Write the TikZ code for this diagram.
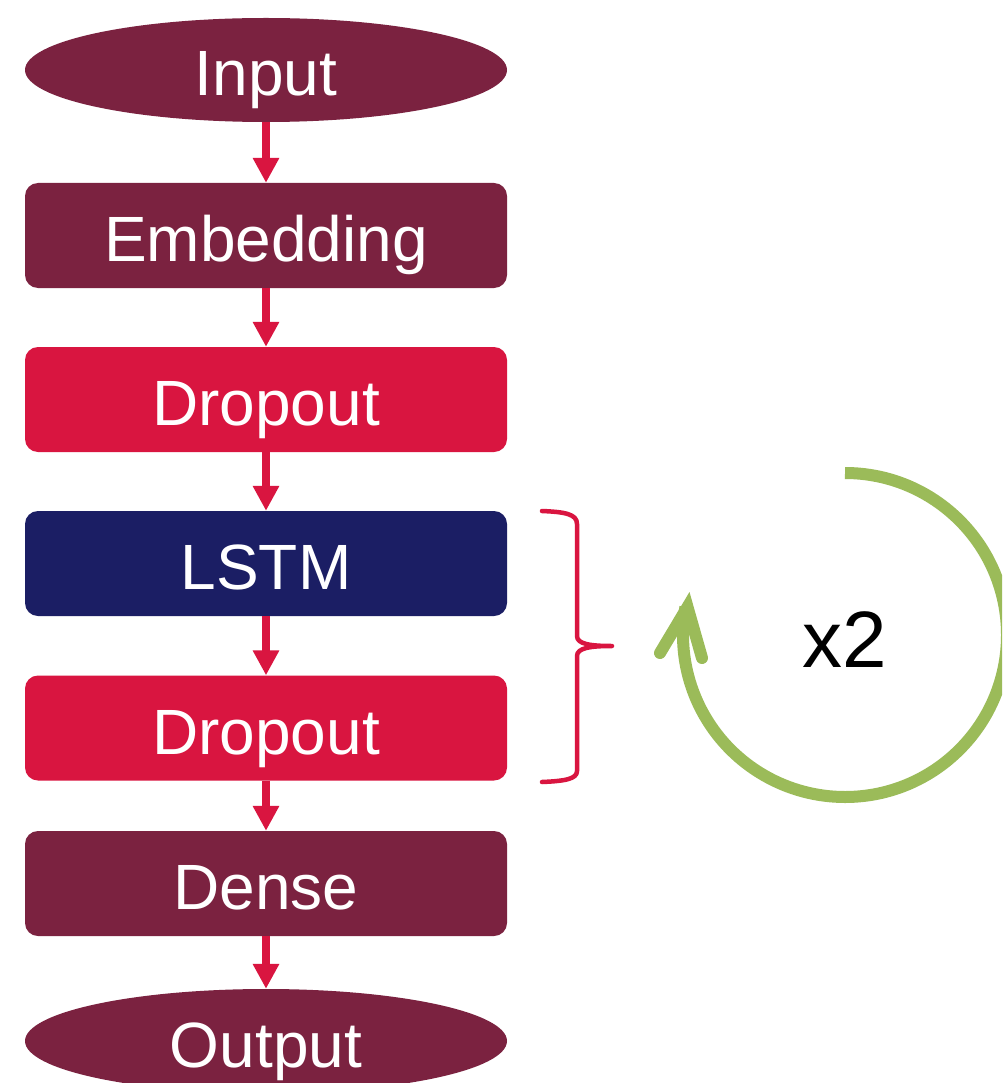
\documentclass[tikz,border=0pt]{standalone}
\usepackage{fontspec}
\setmainfont{Liberation Sans}
\usetikzlibrary{arrows.meta,shapes.geometric}

\definecolor{maroon}{HTML}{7B2240}
\definecolor{crimson}{HTML}{D91540}
\definecolor{navy}{HTML}{1B1E64}
\definecolor{leaf}{HTML}{9BBB59}

\tikzset{
  label text/.style={text=white, font=\fontsize{64}{70}\selectfont, text height=52pt, text depth=0pt},
  layer/.style={rectangle, rounded corners=13pt, minimum width=482pt, minimum height=105pt,
    inner sep=0pt, label text},
  terminal/.style={ellipse, fill=maroon, minimum width=482pt, minimum height=104pt,
    inner sep=0pt, label text},
  flow/.style={crimson, line width=8pt, -{Triangle[width=25pt,length=25pt]}},
}

\begin{document}
\begin{tikzpicture}[x=1pt,y=-1pt]
  \clip (0,0) rectangle (1002,1083);
  \fill[white] (0,0) rectangle (1002,1083);

  % network layers
  \node[terminal] (input) at (266,70) {Input};
  \node[layer, fill=maroon] (embed) at (266,235.5) {Embedding};
  \node[layer, fill=crimson] (drop1) at (266,399.5) {Dropout};
  \node[layer, fill=navy] (lstm) at (266,563.5) {LSTM};
  \node[layer, fill=crimson] (drop2) at (266,728) {Dropout};
  \node[layer, fill=maroon] (dense) at (266,883.5) {Dense};
  \node[terminal] (output) at (266,1041) {Output};

  % forward connections
  \draw[flow] (input.south) -- (embed.north);
  \draw[flow] (embed.south) -- (drop1.north);
  \draw[flow] (drop1.south) -- (lstm.north);
  \draw[flow] (lstm.south) -- (drop2.north);
  \draw[flow] (drop2.south) -- (dense.north);
  \draw[flow] (dense.south) -- (output.north);

  % brace grouping the repeated LSTM + Dropout block
  \draw[crimson, line width=4.5pt, line cap=round, line join=round]
    (542,511) .. controls (565,512) and (577,514) .. (577,524)
    -- (577,636) .. controls (577,644) and (590,646) .. (612,646)
    .. controls (590,646) and (577,648) .. (577,656)
    -- (577,771) .. controls (577,779) and (565,781) .. (542,782);

  % repetition loop (y axis points down, so angles run clockwise on the page)
  \draw[leaf, line width=12pt] (845,473) arc[start angle=-90, end angle=190, radius=162];
  \coordinate (tip) at (687.5,607);
  \draw[leaf, line width=12pt, line cap=round, line join=miter]
    (660,653) -- (tip) -- (702,658);
  \node[font=\fontsize{80}{88}\selectfont, text=black, text height=59pt, text depth=0pt,
    inner sep=0pt] (times) at (845,637.5) {x2};
\end{tikzpicture}
\end{document}
